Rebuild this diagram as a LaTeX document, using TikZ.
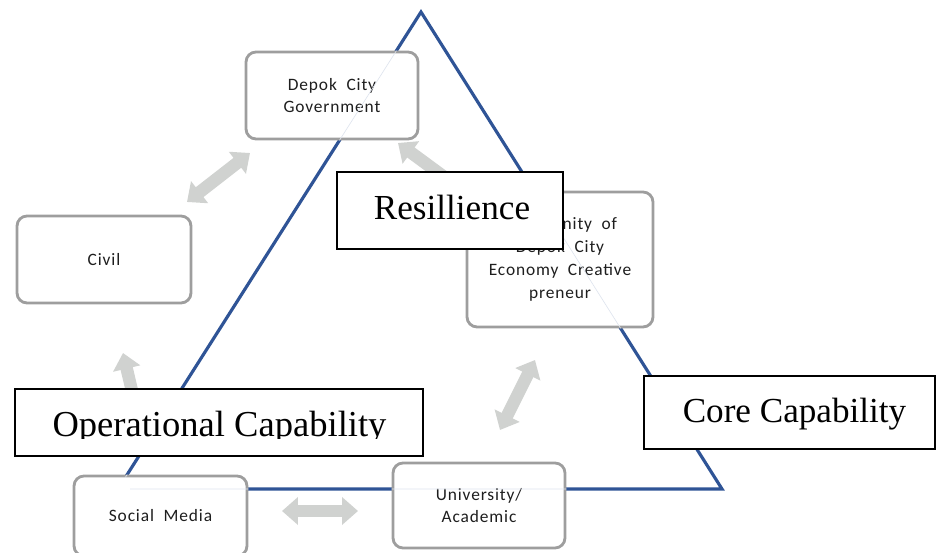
\documentclass[tikz,border=0pt]{standalone}
\usepackage{fontspec}
\setmainfont{Liberation Serif}
\newfontfamily\boxfont{Carlito}[LetterSpace=5.0]
\usetikzlibrary{arrows.meta}
\definecolor{triblue}{RGB}{47,84,150}
\definecolor{boxgray}{RGB}{158,158,158}
\definecolor{arrowgray}{RGB}{208,210,208}
\definecolor{boxtext}{RGB}{30,30,30}
\tikzset{
  actor/.style={draw=boxgray, line width=1.6pt, rounded corners=0.2cm, fill=white,
    align=center, inner sep=0pt, text=boxtext,
    font=\boxfont\fontsize{9.9}{13}\selectfont},
  capframe/.style={draw=black, line width=1.1pt, fill=white, inner sep=0pt},
  captext/.style={anchor=base, inner sep=0pt, font=\fontsize{20}{24}\selectfont},
  flow/.style={draw=arrowgray, line width=0.25cm,
    {Triangle[width=0.54cm,length=0.32cm]}-{Triangle[width=0.54cm,length=0.32cm]}},
}
\begin{document}
\begin{tikzpicture}[x=0.02cm, y=-0.02cm]
\useasboundingbox (0,0) rectangle (937,553);
\clip (0,0) rectangle (937,553);

% capability triangle
\coordinate (apex) at (421,12);
\coordinate (bl) at (118,489);
\coordinate (br) at (722,489);
\draw[triblue, line width=1.8pt, line join=miter] (apex) -- (br) -- (bl) -- cycle;

% ends of the exchange arrows
\coordinate (a1s) at (187,202); \coordinate (a1e) at (250,153);
\coordinate (a2s) at (470,196); \coordinate (a2e) at (398,143);
\coordinate (a3s) at (146,450); \coordinate (a3e) at (123,353);
\coordinate (a4s) at (282,511); \coordinate (a4e) at (358,511);
\coordinate (a5s) at (500,430); \coordinate (a5e) at (535,360);
\draw[flow] (a1s) -- (a1e);
\draw[flow] (a2s) -- (a2e);
\draw[flow] (a3s) -- (a3e);
\draw[flow] (a4s) -- (a4e);
\draw[flow] (a5s) -- (a5e);

% actors
\node[actor, minimum width=3.44cm, minimum height=1.74cm] (gov) at (332,95.5)
  {Depok\ \ City\\Government};
\node[actor, minimum width=3.72cm, minimum height=2.70cm] (comm) at (560,259.5)
  {Community\ \ of\\Depok\ \ City\\Economy\ \ Creative\\preneur};
\node[actor, minimum width=3.48cm, minimum height=1.74cm] (civil) at (104,259.5)
  {Civil};
\node[actor, minimum width=3.46cm, minimum height=1.60cm] (social) at (160.5,516)
  {Social\ \ Media};
\node[actor, minimum width=3.44cm, minimum height=1.70cm] (univ) at (479,505.5)
  {University/\\Academic};

% faint trace of the triangle where it runs behind the boxes
\begin{scope}
  \clip (gov.south west) rectangle (gov.north east)
        (comm.south west) rectangle (comm.north east)
        (social.south west) rectangle (social.north east)
        (univ.south west) rectangle (univ.north east)
        (100,478) rectangle (130,500);
  \draw[triblue!16, line width=0.35pt] (apex) -- (br) -- (bl) -- cycle;
\end{scope}

% capability labels
\node[capframe, minimum width=4.52cm, minimum height=1.54cm] (resbox) at (450,210.5) {};
\node[captext] (restext) at (452,220) {Resillience};

\node[capframe, minimum width=5.82cm, minimum height=1.46cm] (corebox) at (789.5,412.5) {};
\node[captext] (coretext) at (794.5,423) {Core Capability};

\node[capframe, minimum width=8.16cm, minimum height=1.34cm] (opbox) at (219,422.5) {};
\begin{scope}
  \clip (16,390) rectangle (422,438.5);
  \node[captext, font=\fontsize{20.8}{24}\selectfont] (optext) at (219.5,437) {Operational Capability};
\end{scope}
\end{tikzpicture}
\end{document}
